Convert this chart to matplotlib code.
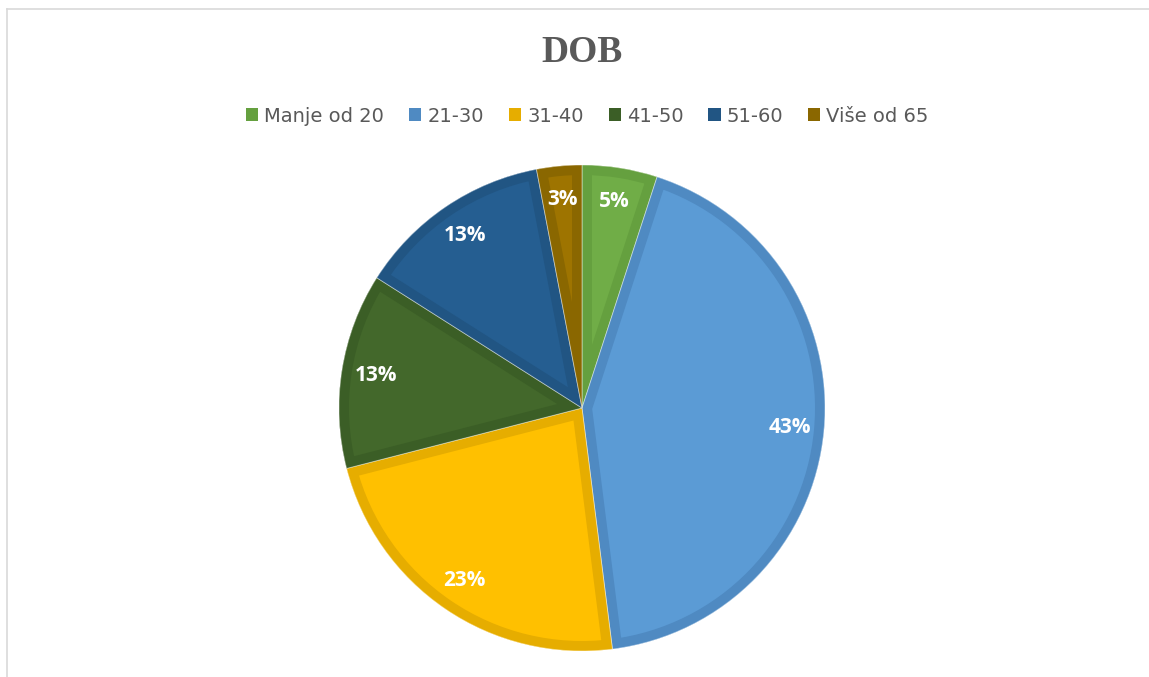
import matplotlib.pyplot as plt
from matplotlib.patches import Patch, Wedge
from matplotlib.lines import Line2D

labels = ['Manje od 20', '21-30', '31-40', '41-50', '51-60', 'Više od 65']
percents = [5, 43, 23, 13, 13, 3]
fill_colors = ['#70AD47', '#5B9BD5', '#FFC000', '#43682B', '#255E91', '#9E7400']
edge_colors = ['#65A03F', '#4F8AC2', '#E6AD00', '#3B5E26', '#215583', '#8A6700']

W, H = 1149, 677
fig = plt.figure(figsize=(W / 100, H / 100), dpi=100)

# pie placed by pixel centre / radius
cx, cy, r = 582, 408, 243
half = 260
ax = fig.add_axes([(cx - half) / W, (H - cy - half) / H, 2 * half / W, 2 * half / H])

wedges, texts, autotexts = ax.pie(
    percents, colors=fill_colors, startangle=90, counterclock=False,
    radius=r / half, autopct=lambda p: f'{p:.0f}%', pctdistance=0.86,
    wedgeprops=dict(linewidth=0),
    textprops=dict(color='white', fontsize=15, fontweight='bold', family='Open Sans'))

# darker inner border, clipped to each slice
bw = 10 * 72 / 100  # 10 px in points
for w, ec in zip(wedges, edge_colors):
    b = Wedge(w.center, w.r, w.theta1, w.theta2, facecolor='none',
              edgecolor=ec, linewidth=2 * bw)
    ax.add_patch(b)
    b.set_clip_path(w)
    sep = Wedge(w.center, w.r, w.theta1, w.theta2, facecolor='none',
                edgecolor=(1, 1, 1, 0.5), linewidth=0.6)
    ax.add_patch(sep)
for t in autotexts:
    t.set_zorder(5)

ax.set_xlim(-1, 1)
ax.set_ylim(-1, 1)
ax.set_aspect('equal')
ax.axis('off')

fig.text(cx / W, 1 - 52.5 / H, 'DOB', ha='center', va='center',
         family='Liberation Serif', fontweight='bold', fontsize=27, color='#595959')

handles = [Patch(facecolor=c, edgecolor='none') for c in edge_colors]
fig.legend(handles, labels, loc='center', bbox_to_anchor=(587.5 / W, 1 - 116 / H),
           ncol=6, frameon=False, fontsize=14, handlelength=0.62, handleheight=0.62,
           handletextpad=0.31, columnspacing=1.29, labelcolor='#595959', borderpad=0)

# chart area border (left and top edges visible)
fig.add_artist(Line2D([6.5 / W, 6.5 / W], [0, 1 - 8.5 / H], color='#D9D9D9', lw=1.2))
fig.add_artist(Line2D([6.5 / W, 1], [1 - 8.5 / H, 1 - 8.5 / H], color='#D9D9D9', lw=1.2))

fig.savefig('out.png', dpi=100)
